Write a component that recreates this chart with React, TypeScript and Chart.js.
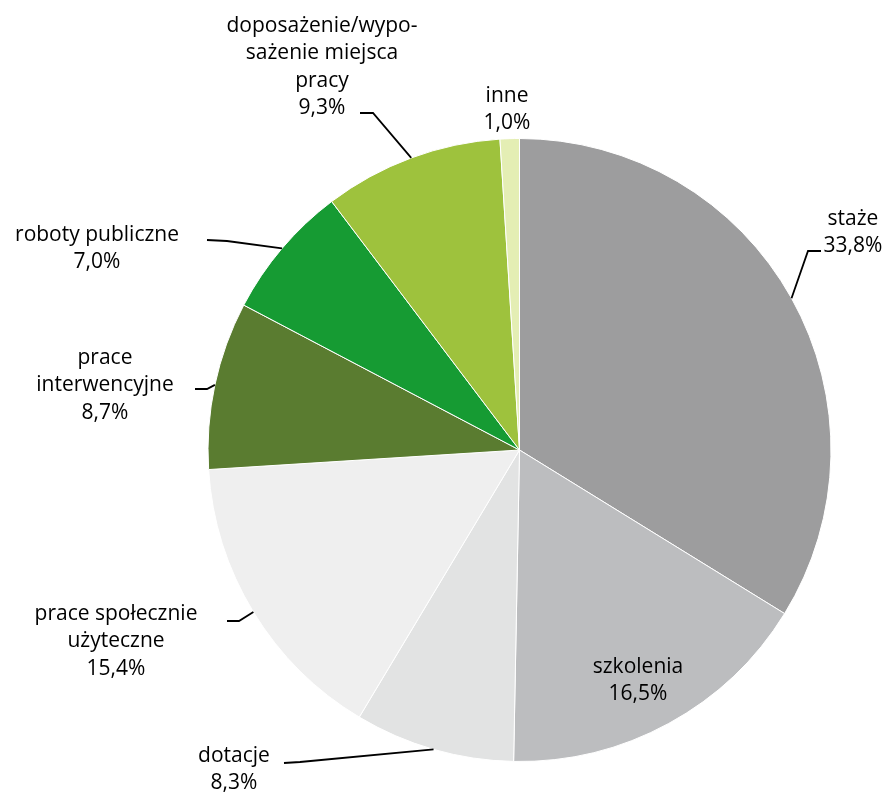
import React, { useEffect, useRef } from "react";
import { Chart, registerables } from "chart.js";

Chart.register(...registerables);

const categories = [
  "staże",
  "szkolenia",
  "dotacje",
  "prace społecznie użyteczne",
  "prace interwencyjne",
  "roboty publiczne",
  "doposażenie/wyposażenie miejsca pracy",
  "inne",
];
const values = [33.8, 16.5, 8.3, 15.4, 8.7, 7.0, 9.3, 1.0];
const valueLabels = ["33,8%", "16,5%", "8,3%", "15,4%", "8,7%", "7,0%", "9,3%", "1,0%"];
const labelLines = [
  ["staże"],
  ["szkolenia"],
  ["dotacje"],
  ["prace społecznie", "użyteczne"],
  ["prace", "interwencyjne"],
  ["roboty publiczne"],
  ["doposażenie/wypo-", "sażenie miejsca", "pracy"],
  ["inne"],
];
const colors = ["#9d9d9e", "#bcbdbf", "#e2e3e3", "#efefef", "#5a7c30", "#169b33", "#9ec23d", "#e4eeb4"];

// layout of the outside labels: text centre x, first baseline y, leader start & elbow (null = no leader)
const labelLayout: { x: number; y: number; lead: number[] | null }[] = [
  { x: 853, y: 225, lead: [821, 251, 808, 251] },
  { x: 638, y: 673, lead: null },
  { x: 234, y: 762, lead: [284, 763, 300, 762] },
  { x: 116, y: 620, lead: [227, 621, 239, 621] },
  { x: 105, y: 364, lead: [195, 389, 207, 389] },
  { x: 97, y: 241, lead: [207, 240, 227, 241] },
  { x: 322, y: 32, lead: [360, 113, 373, 113] },
  { x: 507, y: 102, lead: null },
];

const LINE_H = 27.3;
const FONT = '21px "Open Sans", "Noto Sans", sans-serif';

const labelPlugin = {
  id: "pieLabels",
  afterDraw(chart: any) {
    const ctx = chart.ctx;
    const meta = chart.getDatasetMeta(0);
    ctx.save();
    ctx.font = FONT;
    ctx.fillStyle = "#000000";
    ctx.textAlign = "center";
    ctx.textBaseline = "alphabetic";
    meta.data.forEach((arc: any, i: number) => {
      const L = labelLayout[i];
      const lines = [...labelLines[i], valueLabels[i]];
      lines.forEach((t, k) => ctx.fillText(t, L.x, L.y + k * LINE_H));
      if (L.lead) {
        const mid = (arc.startAngle + arc.endAngle) / 2;
        const ax = arc.x + Math.cos(mid) * arc.outerRadius;
        const ay = arc.y + Math.sin(mid) * arc.outerRadius;
        ctx.beginPath();
        ctx.strokeStyle = "#000000";
        ctx.lineWidth = 1.8;
        ctx.moveTo(L.lead[0], L.lead[1]);
        ctx.lineTo(L.lead[2], L.lead[3]);
        ctx.lineTo(ax, ay);
        ctx.stroke();
      }
    });
    ctx.restore();
  },
};

export default function App() {
  const ref = useRef<HTMLCanvasElement | null>(null);
  useEffect(() => {
    if (!ref.current) return;
    const chart = new Chart(ref.current, {
      type: "pie",
      data: {
        labels: categories,
        datasets: [
          {
            data: values,
            backgroundColor: colors,
            borderColor: "#ffffff",
            borderWidth: 1,
          },
        ],
      },
      options: {
        animation: false,
        responsive: false,
        rotation: 0,
        layout: { padding: { left: 207, right: 57, top: 138, bottom: 32 } },
        plugins: { legend: { display: false }, tooltip: { enabled: false } },
      },
      plugins: [labelPlugin],
    });
    return () => chart.destroy();
  }, []);
  return (
    <div style={{ position: "fixed", left: 0, top: 0, width: 889, height: 794, background: "#fff" }}>
      <canvas ref={ref} width={889} height={794} style={{ width: 889, height: 794 }} />
    </div>
  );
}
